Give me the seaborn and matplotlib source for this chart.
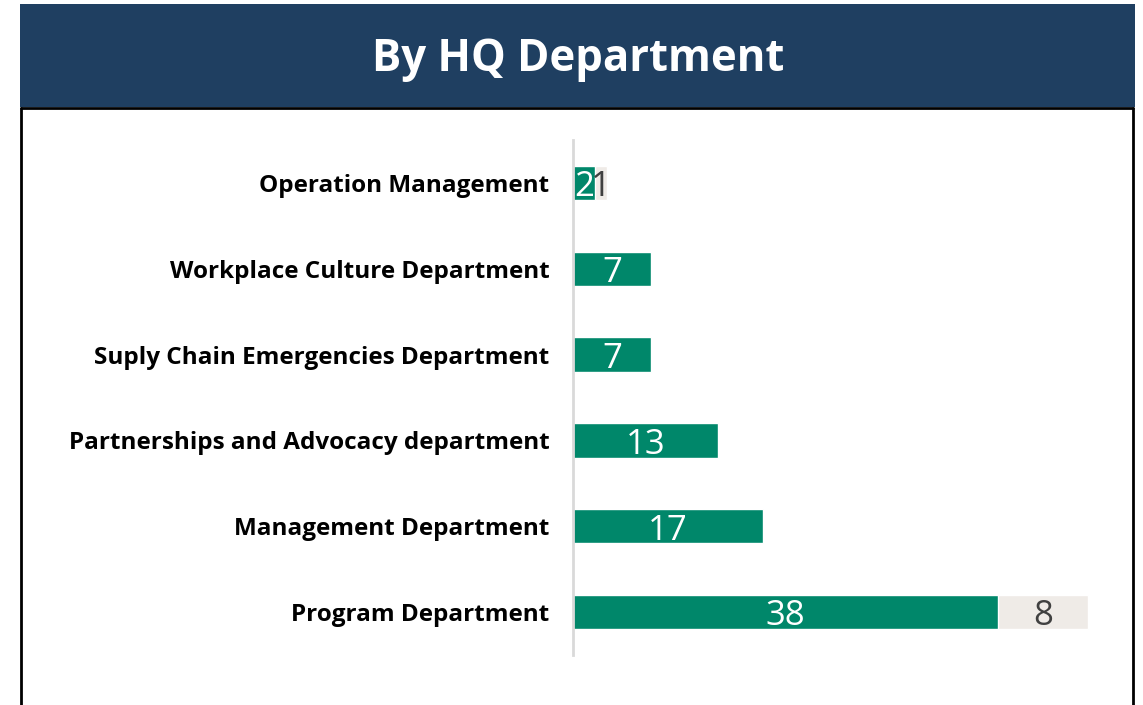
import numpy as np
import pandas as pd
import matplotlib.pyplot as plt
import seaborn as sns
from matplotlib.patches import Rectangle
from matplotlib.lines import Line2D

# data
departments = ['Operation Management', 'Workplace Culture Department',
               'Suply Chain Emergencies Department', 'Partnerships and Advocacy department',
               'Management Department', 'Program Department']
green_vals = [2, 7, 7, 13, 17, 38]
gray_vals = [1, 0, 0, 0, 0, 8]

df = pd.DataFrame({'dept': departments, 'green': green_vals, 'gray': gray_vals})
df['total'] = df['green'] + df['gray']

sns.set_style('white')
plt.rcParams['font.family'] = ['Open Sans', 'DejaVu Sans']

green = '#00876a'
gray = '#efebe7'

fig = plt.figure(figsize=(11.43, 7.05), dpi=100)
W, H = 1143, 705

# header band
fig.patches.append(Rectangle((20 / W, 1 - 107 / H), 1115 / W, 103 / H,
                             transform=fig.transFigure, facecolor='#1f3f61', edgecolor='none'))
fig.text(578 / W, 1 - 60 / H, 'By HQ Department', color='white', fontsize=31.5,
         fontweight='bold', ha='center', va='center')
# frame lines
for xs, ys in [([21, 1133], [108, 108]), ([21, 21], [108, 705]), ([1133, 1133], [108, 705])]:
    fig.lines.append(Line2D([x / W for x in xs], [1 - y / H for y in ys],
                            transform=fig.transFigure, color='black', lw=2))

ax = fig.add_axes([573 / W, 1 - 655 / H, (1110 - 573) / W, 515 / H])
sns.barplot(data=df, x='total', y='dept', color=gray, width=0.4, saturation=1, ax=ax)
sns.barplot(data=df, x='green', y='dept', color=green, width=0.4, saturation=1, ax=ax)

for i, row in df.iterrows():
    ax.text(row['green'] / 2, i + 0.05, str(row['green']), color='white', fontsize=25,
            ha='center', va='center')
    if row['gray'] > 0:
        ax.text(row['green'] + row['gray'] / 2, i + 0.05, str(row['gray']), color='#404040',
                fontsize=25, ha='center', va='center')

ax.set_xlim(0, 48)
ax.set_ylim(5.5, -0.5)
ax.set_xlabel('')
ax.set_ylabel('')
ax.set_xticks([])
ax.tick_params(axis='y', length=0, pad=17)
for lab in ax.get_yticklabels():
    lab.set_fontweight('bold')
    lab.set_fontsize(17.5)
    lab.set_color('black')
for s in ['top', 'right', 'bottom']:
    ax.spines[s].set_visible(False)
ax.spines['left'].set_color('#d9d9d9')
ax.spines['left'].set_linewidth(2)
ax.set_facecolor('none')

plt.savefig('out.png', dpi=100)
